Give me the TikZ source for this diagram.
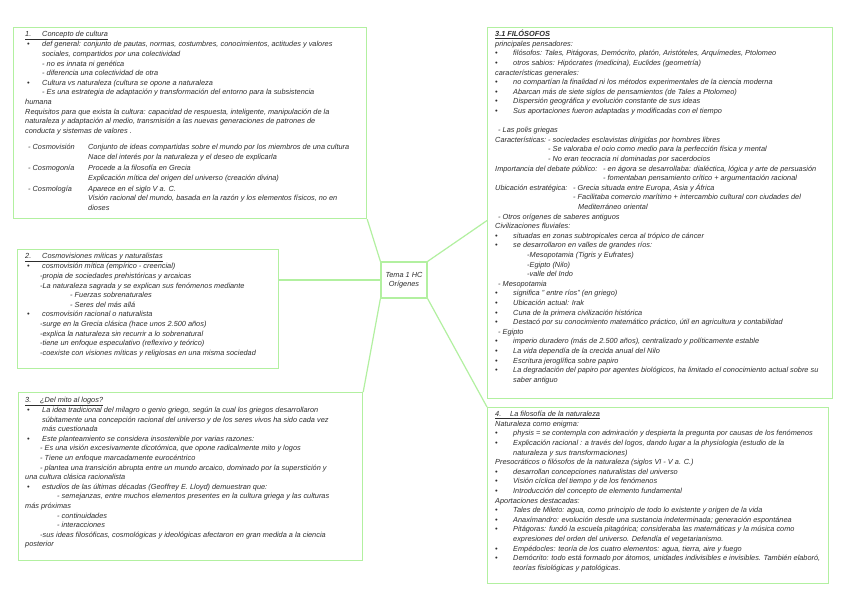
\documentclass[tikz,border=0pt]{standalone}
\usepackage{fontspec}
\setmainfont{Liberation Sans}
\usetikzlibrary{calc}
\definecolor{mapgreen}{RGB}{178,240,160}
\definecolor{ink}{RGB}{45,45,45}
\newcommand\mB[1]{\hspace*{2pt}\makebox[15pt][l]{\textbullet}#1}
\newcommand\rB[1]{\makebox[18pt][l]{\textbullet}#1}
\newcommand\mI[2]{\hspace*{#1pt}#2}
\newcommand\mL[3]{\makebox[#1pt][l]{#2}#3}
\begin{document}
\begin{tikzpicture}[x=1pt,y=-1pt,
  mapbox/.style={draw=mapgreen, line width=1.2pt, inner sep=0pt, anchor=north west},
  link/.style={draw=mapgreen, line width=1.2pt},
  txt/.style={anchor=north west, inner sep=0pt, font=\fontsize{7.35}{9.6}\selectfont\itshape, text=ink},
  hub/.style={draw=mapgreen, line width=1.2pt, align=center, inner sep=2pt, font=\fontsize{7.35}{9.6}\selectfont\itshape, text=ink}]
\useasboundingbox (0,0) rectangle (848,599);
\fill[white] (0,0) rectangle (848,599);

% boxes
\node[mapbox, minimum width=353pt, minimum height=191pt] (b1) at (13,27) {};
\node[mapbox, minimum width=261pt, minimum height=119pt] (b2) at (17,249) {};
\node[mapbox, minimum width=344pt, minimum height=168pt] (b3) at (18,392) {};
\node[mapbox, minimum width=345pt, minimum height=371pt] (b5) at (487,27) {};
\node[mapbox, minimum width=341pt, minimum height=176pt] (b4) at (487,407) {};
\node[hub, minimum width=46pt, minimum height=36pt] (c) at (404,280) {Tema 1 HC\\Orígenes};

% connectors
\draw[link] (b1.south east) -- (c.north west);
\draw[link] (c.west) -- (c.west -| b2.east);
\draw[link] (c.south west) -- (b3.north east);
\draw[link] (c.north east) -- ($(b5.north west)!0.52!(b5.south west)$);
\draw[link] (c.south east) -- (b4.north west);

% box 1
\node[txt] (t1) at (25,29.8) {\begin{tabular}{@{}l@{}}
\underline{\mL{17}{1.}{Concepto de cultura}}\\
\mB{def general: conjunto de pautas, normas, costumbres, conocimientos, actitudes y valores}\\
\mI{17}{sociales, compartidos por una colectividad}\\
\mI{17}{- no es innata ni genética}\\
\mI{17}{- diferencia una colectividad de otra}\\
\mB{Cultura vs naturaleza (cultura se opone a naturaleza}\\
\mI{17}{- Es una estrategia de adaptación y transformación del entorno para la subsistencia}\\
humana\\
Requisitos para que exista la cultura: capacidad de respuesta, inteligente, manipulación de la\\
naturaleza y adaptación al medio, transmisión a las nuevas generaciones de patrones de\\
conducta y sistemas de valores .\\[7pt]
\mI{3}{\mL{60}{- Cosmovisión}{Conjunto de ideas compartidas sobre el mundo por los miembros de una cultura}}\\
\mI{63}{Nace del interés por la naturaleza y el deseo de explicarla}\\[1.5pt]
\mI{3}{\mL{60}{- Cosmogonía}{Procede a la filosofía en Grecia}}\\
\mI{63}{Explicación mítica del origen del universo (creación divina)}\\[1.5pt]
\mI{3}{\mL{60}{- Cosmología}{Aparece en el siglo V a. C.}}\\
\mI{63}{Visión racional del mundo, basada en la razón y los elementos físicos, no en}\\
\mI{63}{dioses}
\end{tabular}};

% box 2
\node[txt] (t2) at (25,251.8) {\begin{tabular}{@{}l@{}}
\underline{\mL{17}{2.}{Cosmovisiones míticas y naturalistas}}\\
\mB{cosmovisión mítica (empírico - creencial)}\\
\mI{15}{-propia de sociedades prehistóricas y arcaicas}\\
\mI{15}{-La naturaleza sagrada y se explican sus fenómenos mediante}\\
\mI{45}{- Fuerzas sobrenaturales}\\
\mI{45}{- Seres del más allá}\\
\mB{cosmovisión racional o naturalista}\\
\mI{15}{-surge en la Grecia clásica (hace unos 2.500 años)}\\
\mI{15}{-explica la naturaleza sin recurrir a lo sobrenatural}\\
\mI{15}{-tiene un enfoque especulativo (reflexivo y teórico)}\\
\mI{15}{-coexiste con visiones míticas y religiosas en una misma sociedad}
\end{tabular}};

% box 3
\node[txt] (t3) at (25,395.3) {\begin{tabular}{@{}l@{}}
\underline{\mL{15}{3.}{¿Del mito al logos?}}\\
\mB{La idea tradicional del milagro o genio griego, según la cual los griegos desarrollaron}\\
\mI{17}{súbitamente una concepción racional del universo y de los seres vivos ha sido cada vez}\\
\mI{17}{más cuestionada}\\
\mB{Este planteamiento se considera insostenible por varias razones:}\\
\mI{15}{- Es una visión excesivamente dicotómica, que opone radicalmente mito y logos}\\
\mI{15}{- Tiene un enfoque marcadamente eurocéntrico}\\
\mI{15}{- plantea una transición abrupta entre un mundo arcaico, dominado por la superstición y}\\
una cultura clásica racionalista\\
\mB{estudios de las últimas décadas (Geoffrey E. Lloyd) demuestran que:}\\
\mI{32}{- semejanzas, entre muchos elementos presentes en la cultura griega y las culturas}\\
más próximas\\
\mI{32}{- continuidades}\\
\mI{32}{- interacciones}\\
\mI{15}{-sus ideas filosóficas, cosmológicas y ideológicas afectaron en gran medida a la ciencia}\\
posterior
\end{tabular}};

% box 3.1 (top right)
\node[txt] (t5) at (495,29.8) {\begin{tabular}{@{}l@{}}
\underline{\textbf{3.1 FILÓSOFOS}}\\
principales pensadores:\\
\rB{filósofos: Tales, Pitágoras, Demócrito, platón, Aristóteles, Arquímedes, Ptolomeo}\\
\rB{otros sabios: Hipócrates (medicina), Euclides (geometría)}\\
características generales:\\
\rB{no compartían la finalidad ni los métodos experimentales de la ciencia moderna}\\
\rB{Abarcan más de siete siglos de pensamientos (de Tales a Ptolomeo)}\\
\rB{Dispersión geográfica y evolución constante de sus ideas}\\
\rB{Sus aportaciones fueron adaptadas y modificadas con el tiempo}\\[9.6pt]
\mI{3}{- Las polis griegas}\\
\mL{53}{Características:}{- sociedades esclavistas dirigidas por hombres libres}\\
\mI{53}{- Se valoraba el ocio como medio para la perfección física y mental}\\
\mI{53}{- No eran teocracia ni dominadas por sacerdocios}\\
\mL{108}{Importancia del debate público:}{- en ágora se desarrollaba: dialéctica, lógica y arte de persuasión}\\
\mI{108}{- fomentaban pensamiento crítico + argumentación racional}\\
\mL{78}{Ubicación estratégica:}{- Grecia situada entre Europa, Asia y África}\\
\mI{78}{- Facilitaba comercio marítimo + intercambio cultural con ciudades del}\\
\mI{83}{Mediterráneo oriental}\\
\mI{3}{- Otros orígenes de saberes antiguos}\\
Civilizaciones fluviales:\\
\rB{situadas en zonas subtropicales cerca al trópico de cáncer}\\
\rB{se desarrollaron en valles de grandes ríos:}\\
\mI{32}{-Mesopotamia (Tigris y Eufrates)}\\
\mI{32}{-Egipto (Nilo)}\\
\mI{32}{-valle del Indo}\\
\mI{3}{- Mesopotamia}\\
\rB{significa " entre ríos" (en griego)}\\
\rB{Ubicación actual: Irak}\\
\rB{Cuna de la primera civilización histórica}\\
\rB{Destacó por su conocimiento matemático práctico, útil en agricultura y contabilidad}\\
\mI{3}{- Egipto}\\
\rB{imperio duradero (más de 2.500 años), centralizado y políticamente estable}\\
\rB{La vida dependía de la crecida anual del Nilo}\\
\rB{Escritura jeroglífica sobre papiro}\\
\rB{La degradación del papiro por agentes biológicos, ha limitado el conocimiento actual sobre su}\\
\mI{18}{saber antiguo}
\end{tabular}};

% box 4
\node[txt] (t4) at (495,409.8) {\begin{tabular}{@{}l@{}}
\underline{\mL{15}{4.}{La filosofía de la naturaleza}}\\
Naturaleza como enigma:\\
\rB{physis = se contempla con admiración y despierta la pregunta por causas de los fenómenos}\\
\rB{Explicación racional : a través del logos, dando lugar a la physiologia (estudio de la}\\
\mI{18}{naturaleza y sus transformaciones)}\\
Presocráticos o filósofos de la naturaleza (siglos VI - V a. C.)\\
\rB{desarrollan concepciones naturalistas del universo}\\
\rB{Visión cíclica del tiempo y de los fenómenos}\\
\rB{Introducción del concepto de elemento fundamental}\\
Aportaciones destacadas:\\
\rB{Tales de Mileto: agua, como principio de todo lo existente y origen de la vida}\\
\rB{Anaxímandro: evolución desde una sustancia indeterminada; generación espontánea}\\
\rB{Pitágoras: fundó la escuela pitagórica; consideraba las matemáticas y la música como}\\
\mI{18}{expresiones del orden del universo. Defendía el vegetarianismo.}\\
\rB{Empédocles: teoría de los cuatro elementos: agua, tierra, aire y fuego}\\
\rB{Demócrito: todo está formado por átomos, unidades indivisibles e invisibles. También elaboró,}\\
\mI{18}{teorías fisiológicas y patológicas.}
\end{tabular}};
\end{tikzpicture}
\end{document}
